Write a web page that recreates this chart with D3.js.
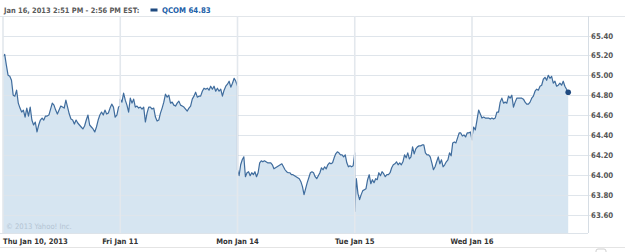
<!DOCTYPE html>
<html>
<head>
<meta charset="utf-8">
<script src="https://cdn.jsdelivr.net/npm/d3@7"></script>
<style>
  html, body { margin: 0; padding: 0; background: #fff; }
  svg text { font-family: "DejaVu Sans Condensed", "DejaVu Sans", sans-serif; }
</style>
</head>
<body>
<div id="chart"></div>
<script>
// QCOM intraday, Jan 10 - Jan 16 2013
const dayLabels = ['Thu Jan 10, 2013', 'Fri Jan 11', 'Mon Jan 14', 'Tue Jan 15', 'Wed Jan 16']
const yTicks = [63.6, 63.8, 64.0, 64.2, 64.4, 64.6, 64.8, 65.0, 65.2, 65.4]

const thu = [65.19, 65.21, 65.10, 65.00, 64.99, 64.95, 64.80, 64.79, 64.85, 64.72, 64.67, 64.63, 64.65, 64.58, 64.67, 64.59, 64.68, 64.55, 64.50, 64.53,
  64.43, 64.50, 64.55, 64.57, 64.55, 64.59, 64.59, 64.60, 64.66, 64.72, 64.70, 64.65, 64.61, 64.65, 64.69, 64.68, 64.67, 64.75, 64.68, 64.61,
  64.56, 64.55, 64.51, 64.55, 64.52, 64.50, 64.48, 64.46, 64.49, 64.55, 64.60, 64.50, 64.48, 64.46, 64.43, 64.48, 64.55, 64.60, 64.63, 64.60,
  64.65, 64.61, 64.62, 64.67, 64.71, 64.68, 64.58, 64.60, 64.68, 64.69]
const fri = [64.76, 64.73, 64.82, 64.75, 64.70, 64.63, 64.77, 64.72, 64.76, 64.68, 64.69, 64.67, 64.68, 64.66, 64.68, 64.53, 64.62, 64.68, 64.68, 64.66,
  64.67, 64.58, 64.54, 64.55, 64.62, 64.67, 64.73, 64.81, 64.78, 64.80, 64.72, 64.73, 64.70, 64.69, 64.72, 64.74, 64.70, 64.69, 64.68, 64.66,
  64.64, 64.67, 64.69, 64.76, 64.79, 64.83, 64.78, 64.79, 64.79, 64.84, 64.87, 64.86, 64.87, 64.85, 64.89, 64.86, 64.89, 64.84, 64.87, 64.84,
  64.86, 64.79, 64.85, 64.89, 64.91, 64.94, 64.88, 64.92, 64.97, 64.94, 64.89]
const mon = [64.05, 63.99, 64.10, 64.15, 64.18, 63.98, 64.02, 64.03, 63.99, 64.02, 64.00, 64.03, 63.98, 64.02, 64.12, 64.14, 64.13, 64.14, 64.13, 64.12,
  64.12, 64.12, 64.10, 64.06, 64.07, 64.08, 64.09, 64.10, 64.11, 64.08, 64.05, 64.03, 64.02, 64.02, 64.00, 64.00, 63.99, 63.98, 63.97, 63.96,
  63.93, 63.88, 63.80, 63.86, 63.92, 63.97, 64.02, 64.03, 64.02, 63.98, 63.96, 63.99, 64.02, 64.07, 64.05, 64.08, 64.06, 64.10, 64.12, 64.11,
  64.12, 64.17, 64.21, 64.23, 64.22, 64.20, 64.20, 64.18, 64.20, 64.12, 64.08, 64.09, 64.08, 64.09, 64.22]
const tue = [63.63, 63.96, 63.81, 63.75, 63.80, 63.84, 63.85, 63.86, 63.95, 64.00, 63.91, 63.95, 63.92, 63.96, 63.95, 64.02, 63.99, 64.03, 64.01, 63.98,
  64.00, 64.00, 64.02, 64.07, 64.10, 64.11, 64.13, 64.10, 64.12, 64.10, 64.13, 64.20, 64.17, 64.22, 64.16, 64.18, 64.28, 64.21, 64.26, 64.28,
  64.29, 64.29, 64.30, 64.30, 64.22, 64.20, 64.20, 64.18, 64.12, 64.05, 64.08, 64.13, 64.18, 64.11, 64.15, 64.08, 64.10, 64.13, 64.15, 64.22,
  64.19, 64.32, 64.33, 64.32, 64.37, 64.42, 64.42, 64.39, 64.40, 64.38, 64.42, 64.42, 64.43, 64.35]
const wed = [64.38, 64.48, 64.45, 64.55, 64.65, 64.61, 64.57, 64.58, 64.57, 64.57, 64.57, 64.56, 64.57, 64.56, 64.57, 64.63, 64.63, 64.73, 64.77, 64.72,
  64.73, 64.72, 64.79, 64.77, 64.80, 64.68, 64.73, 64.77, 64.77, 64.77, 64.77, 64.76, 64.73, 64.71, 64.71, 64.73, 64.77, 64.79, 64.84, 64.86,
  64.85, 64.89, 64.90, 64.96, 64.98, 64.95, 65.00, 64.97, 64.99, 64.92, 64.94, 64.89, 64.90, 64.92, 64.90, 64.94, 64.89, 64.86, 64.83]
// minutes of trading covered by each day (session = 390 min, Wed still open)
const dayMinutes = [390, 390, 390, 390, 320]

const SESSION = 390
const WIDTH = 625
const HEIGHT = 252
const PLOT_LEFT = 3
const PLOT_RIGHT = 588
const PLOT_TOP = 16
const PLOT_BOTTOM = 233

const days = [thu, fri, mon, tue, wed]
const points = []
days.forEach((vals, d) => {
  const span = dayMinutes[d] / SESSION
  vals.forEach((v, i) => points.push({ t: d + span * i / (vals.length - 1), v: v }))
})

const x = d3.scaleLinear().domain([0, 5]).range([PLOT_LEFT, 589.25])
const y = d3.scaleLinear().domain([63.6, 65.4]).range([214.5, 35.5])

const svg = d3.select('#chart').append('svg')
  .attr('width', WIDTH)
  .attr('height', HEIGHT)

// header
const header = svg.append('g')
header.append('text')
  .attr('x', 4).attr('y', 13)
  .attr('font-size', 7.4).attr('font-weight', 'bold')
  .attr('fill', '#5a5a5a')
  .text('Jan 16, 2013 2:51 PM - 2:56 PM EST:')
header.append('rect')
  .attr('x', 150.5).attr('y', 8.5)
  .attr('width', 7).attr('height', 3)
  .attr('fill', '#1f4a80')
header.append('text')
  .attr('x', 162).attr('y', 13)
  .attr('font-size', 7.8).attr('font-weight', 'bold')
  .attr('fill', '#2160a8')
  .text('QCOM ' + wed[wed.length - 1].toFixed(2))

// top border
svg.append('line')
  .attr('x1', 0).attr('x2', WIDTH)
  .attr('y1', PLOT_TOP + 0.5).attr('y2', PLOT_TOP + 0.5)
  .attr('stroke', '#e2e6ea')

const area = d3.area()
  .x(d => x(d.t))
  .y0(PLOT_BOTTOM)
  .y1(d => y(d.v))

svg.append('path')
  .datum(points)
  .attr('fill', '#d6e5f1')
  .attr('d', area)

// horizontal grid
svg.append('g')
  .selectAll('line')
  .data(yTicks)
  .join('line')
  .attr('x1', PLOT_LEFT).attr('x2', PLOT_RIGHT + 3)
  .attr('y1', d => Math.round(y(d)) + 0.5)
  .attr('y2', d => Math.round(y(d)) + 0.5)
  .attr('stroke', '#dfe5eb')
  .attr('stroke-width', 1.2)

const line = d3.line()
  .x(d => x(d.t))
  .y(d => y(d.v))

svg.append('path')
  .datum(points)
  .attr('fill', 'none')
  .attr('stroke', '#3f6c9d')
  .attr('stroke-width', 1.2)
  .attr('stroke-linejoin', 'round')
  .attr('d', line)

// vertical grid (day starts)
svg.append('g')
  .selectAll('line')
  .data(d3.range(dayLabels.length))
  .join('line')
  .attr('x1', d => x(d)).attr('x2', d => x(d))
  .attr('y1', PLOT_TOP).attr('y2', PLOT_BOTTOM)
  .attr('stroke', '#e3e8ed')
  .attr('stroke-width', 1.6)

// right + bottom border
svg.append('line')
  .attr('x1', PLOT_RIGHT + 0.5).attr('x2', PLOT_RIGHT + 0.5)
  .attr('y1', PLOT_TOP).attr('y2', PLOT_BOTTOM)
  .attr('stroke', '#d6dde4')
svg.append('line')
  .attr('x1', 0).attr('x2', PLOT_RIGHT)
  .attr('y1', PLOT_BOTTOM + 0.5).attr('y2', PLOT_BOTTOM + 0.5)
  .attr('stroke', '#dde3e9')

// last price dot
const last = points[points.length - 1]
svg.append('circle')
  .attr('cx', x(last.t)).attr('cy', y(last.v))
  .attr('r', 2.8)
  .attr('fill', '#1f4a80')

svg.append('text')
  .attr('x', 6).attr('y', 229)
  .attr('font-size', 7.6)
  .attr('fill', '#b3c4d3')
  .text('\u00a9 2013 Yahoo! Inc.')

// y labels
svg.append('g')
  .selectAll('text')
  .data(yTicks)
  .join('text')
  .attr('x', 591)
  .attr('y', d => y(d) + 3)
  .attr('font-size', 7.8).attr('font-weight', 'bold')
  .attr('fill', '#555')
  .text(d => d.toFixed(2))

// x labels
svg.append('g')
  .selectAll('text')
  .data(dayLabels)
  .join('text')
  .attr('x', (d, i) => i === 0 ? PLOT_LEFT : x(i))
  .attr('y', 244)
  .attr('text-anchor', (d, i) => i === 0 ? 'start' : 'middle')
  .attr('font-size', 7.6).attr('font-weight', 'bold')
  .attr('fill', '#333')
  .text(d => d)

// navigator strip at the bottom
svg.append('line')
  .attr('x1', 0).attr('x2', WIDTH)
  .attr('y1', 247.5).attr('y2', 247.5)
  .attr('stroke', '#e4e4e4')
svg.append('rect')
  .attr('x', 596).attr('y', 249)
  .attr('width', 10).attr('height', 5)
  .attr('rx', 2)
  .attr('fill', 'none')
  .attr('stroke', '#cfcfcf')
</script>
</body>
</html>
